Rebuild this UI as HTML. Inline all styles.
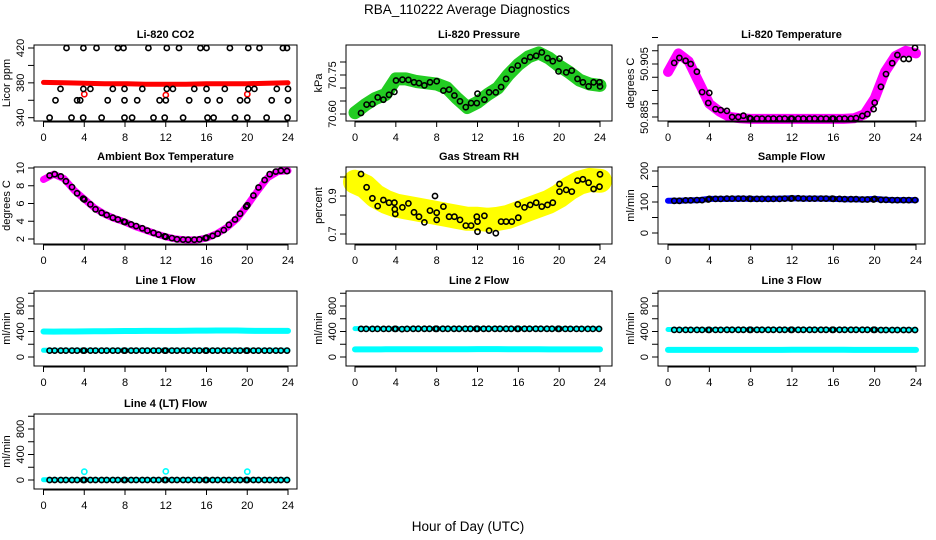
<!DOCTYPE html>
<html><head><meta charset="utf-8"><style>
html,body{margin:0;padding:0;background:#fff;}
svg{display:block;font-family:"Liberation Sans",Arial,sans-serif;}
</style></head><body>
<svg id="chart" width="936" height="540" viewBox="0 0 936 540" xmlns="http://www.w3.org/2000/svg">
<rect x="0" y="0" width="936" height="540" fill="#fff"/>
<text x="467" y="14" font-size="13.5" text-anchor="middle">RBA_110222  Average Diagnostics</text>
<text x="468" y="531" font-size="13.5" text-anchor="middle">Hour of Day (UTC)</text>
</svg>
<script>
// ---------- data ----------
const flowHours = [0.6,1.1,1.7,2.2,2.8,3.3,3.9,4.0,4.6,5.1,5.7,6.2,6.8,7.3,7.9,8.0,8.6,9.1,9.7,10.2,10.8,11.3,11.9,12.0,12.6,13.1,13.7,14.2,14.8,15.3,15.9,16.0,16.6,17.1,17.7,18.2,18.8,19.3,19.9,20.0,20.6,21.1,21.7,22.2,22.8,23.3,23.9];
const bandHours = [0,1,2,3,4,5,6,7,8,9,10,11,12,13,14,15,16,17,18,19,20,21,22,23,24];

// CO2
const co2BandHours = [0,2,4,6,8,10,12,14,16,18,20,22,24];
const co2BandVals = [380.5,380,379.5,379,379,378.5,378.5,378.5,379,379,379,379.5,380];
const co2OutHours = [4,12,20];
const co2OutVals = [367,366,367];
const co2BlackHours = [2.26,3.92,5.2,7.3,7.85,10.3,12.1,13.3,15.4,16.0,18.3,20.1,21.2,23.5,23.9,
 1.67,3.92,4.6,6.8,7.95,9.7,12.1,12.7,14.8,16.0,17.8,20.1,20.7,22.9,24.0,
 1.18,3.3,3.6,6.3,7.95,9.2,11.4,12.0,14.3,16.1,17.3,19.3,20.0,22.4,24.0,
 0.6,2.75,3.9,5.7,7.95,8.7,10.8,11.9,13.7,16.1,16.7,18.8,20.0,21.9,23.95];
const co2BlackVals = [420,420,420,420,420,420,420,420,420,420,420,420,420,420,420,
 373,373,373,373,373,373,373,373,373,373,373,373,373,373,373,
 360,360,360,360,360,360,360,360,360,360,360,360,360,360,360,
 340,340,340,340,340,340,340,340,340,340,340,340,340,340,340];

// Pressure
const presBandVals = [70.605,70.635,70.66,70.675,70.735,70.735,70.725,70.72,70.715,70.70,70.66,70.625,70.645,70.675,70.70,70.75,70.79,70.82,70.835,70.815,70.785,70.76,70.73,70.715,70.71];
const presBlackHours = [0.59,1.14,1.70,2.22,2.78,3.33,3.86,4.02,4.64,5.23,5.78,6.27,6.80,7.35,8.0,8.66,9.22,9.74,10.29,10.85,11.37,11.93,12.0,12.68,13.14,13.79,14.31,14.80,15.36,15.95,16.60,17.16,17.75,18.30,18.86,19.38,20.03,19.93,20.69,21.24,21.80,22.32,22.88,23.37,23.95,24.0];
const presBlackVals = [70.604,70.636,70.638,70.664,70.655,70.674,70.685,70.729,70.732,70.731,70.722,70.719,70.710,70.722,70.726,70.690,70.694,70.671,70.649,70.626,70.642,70.642,70.678,70.655,70.683,70.683,70.704,70.735,70.771,70.786,70.805,70.819,70.824,70.837,70.815,70.803,70.813,70.764,70.760,70.767,70.735,70.722,70.706,70.722,70.722,70.706];

// Li-820 temperature
const ltBandVals = [50.902,50.909,50.906,50.898,50.890,50.887,50.885,50.8845,50.8843,50.8843,50.8843,50.8843,50.8843,50.8843,50.8843,50.8843,50.8843,50.8843,50.8845,50.886,50.892,50.902,50.908,50.910,50.909];
const ltBlackVals = [50.9054,50.9073,50.9062,50.905,50.9021,50.8944,50.8903,50.8941,50.888,50.8876,50.8873,50.885,50.885,50.8855,50.8846,50.8844,50.8844,50.8844,50.8844,50.8844,50.8844,50.8844,50.8844,50.8844,50.8844,50.8844,50.8844,50.8844,50.8844,50.8844,50.8844,50.8844,50.8844,50.8844,50.8844,50.8846,50.8854,50.8861,50.888,50.8904,50.8964,50.9012,50.9053,50.9084,50.9069,50.9069,50.9111];

// Ambient box temperature
const ambBandVals = [8.7,9.3,8.8,7.5,6.5,5.5,4.8,4.3,3.9,3.4,3.0,2.6,2.25,2.0,1.9,1.9,2.1,2.6,3.3,4.3,5.8,7.4,8.9,9.6,9.7];
const ambBlackVals = [9.15,9.3,9.05,8.5,7.85,7.15,6.55,6.45,5.9,5.35,4.95,4.7,4.4,4.2,3.95,3.9,3.65,3.45,3.2,2.95,2.7,2.5,2.3,2.25,2.1,1.97,1.93,1.92,1.92,1.95,2.1,2.15,2.35,2.6,3.0,3.6,4.2,4.85,5.65,5.8,6.9,7.8,8.65,9.3,9.6,9.7,9.65];

// Gas stream RH
const rhBandVals = [0.975,0.95,0.9,0.87,0.85,0.84,0.83,0.82,0.81,0.80,0.79,0.78,0.78,0.775,0.78,0.79,0.81,0.83,0.85,0.87,0.9,0.94,0.97,0.985,0.98];
const rhBlackHours = [0.59,1.14,1.7,2.22,2.78,3.33,3.86,3.9,3.95,4.64,5.23,5.78,6.27,6.8,7.35,7.84,8.0,8.0,8.66,9.22,9.74,10.29,10.85,11.37,11.93,12.0,12.0,12.68,13.14,13.79,14.31,14.8,15.36,15.95,16.0,16.6,17.16,17.75,18.3,18.86,19.38,20.03,20.03,20.69,21.24,21.8,22.32,22.88,23.37,23.95,24.0];
const rhBlackVals = [1.016,0.946,0.888,0.847,0.879,0.865,0.865,0.83,0.805,0.84,0.861,0.814,0.791,0.761,0.823,0.9,0.812,0.774,0.844,0.791,0.791,0.774,0.744,0.744,0.791,0.765,0.712,0.796,0.718,0.704,0.765,0.765,0.765,0.856,0.786,0.84,0.853,0.865,0.844,0.853,0.865,0.963,0.923,0.932,0.923,0.981,0.988,0.97,0.937,0.949,1.014];

// Sample flow
const sfBandVals = [104,104,105,106,110,110,110,111,110,110,110,111,112,111,111,111,110,109,109,108,110,107,106,106,106];
const sfBlackVals = [104,104,105,105,106,106,108,110,110,110,111,111,111,111,111,110,110,110,110,110,110,111,111,112,112,111,111,111,111,111,111,110,110,109,109,109,108,108,108,110,107,107,106,106,106,106,106];

// Line 1 flow
const l1HighVals = [400,398,400,400,402,404,405,406,408,408,409,410,410,410,412,414,414,416,416,416,412,410,410,410,410];
const l1LowVals = [105,105,106,106,106,106,106,106,106,106,106,106,106,106,106,106,106,106,106,106,106,106,106,106,106];
const l1BlackVals = [100,100,100,100,100,100,100,100,100,100,100,100,100,100,100,100,100,100,100,100,100,100,100,100,100,100,100,100,100,100,100,100,100,100,100,100,100,100,100,100,100,100,100,100,100,100,100];

// Line 2 flow
const l2HighVals = [445,445,444,444,444,445,445,446,446,446,446,446,447,447,447,447,447,447,446,446,446,445,445,445,445];
const l2LowVals = [120,120,120,121,122,122,122,122,122,122,122,122,124,124,124,123,122,122,121,120,120,120,120,120,120];
const l2BlackVals = [440,440,440,440,440,440,440,440,437,440,442,442,442,442,442,442,442,442,442,442,442,442,442,442,442,442,442,442,442,442,442,442,442,442,442,442,442,442,442,440,440,440,440,440,440,440,440];

// Line 3 flow
const l3HighVals = [432,430,430,430,430,432,432,432,432,432,432,432,432,432,432,432,432,432,432,432,430,428,428,428,428];
const l3LowVals = [112,112,112,112,112,112,112,112,112,112,112,112,114,113,113,113,113,113,112,112,112,112,112,112,112];
const l3BlackVals = [425,425,425,425,425,425,425,425,425,425,427,427,427,427,427,427,427,427,427,427,427,427,427,427,427,427,427,427,427,427,427,427,427,427,427,427,427,427,427,427,423,423,423,423,423,423,423];

// Line 4 (LT) flow
const l4BandVals = [5,5,5,5,5,5,5,5,5,5,5,5,5,5,5,5,5,5,5,5,5,5,5,5,5];
const l4OutHours = [4,12,20];
const l4OutVals = [130,135,130];
const l4BlackVals = [0,0,0,0,0,0,0,0,0,0,0,0,0,0,0,0,0,0,0,0,0,0,0,0,0,0,0,0,0,0,0,0,0,0,0,0,0,0,0,0,0,0,0,0,0,0,0];

// axis ticks
const xTicks = [0,4,8,12,16,20,24];
const co2Ticks = [340,360,380,400,420]; const co2Labels = ["340","","380","","420"];
const presTicks = [70.60,70.65,70.70,70.75,70.80]; const presLabels = ["70.60","","","70.75",""];
const ltTicks = [50.885,50.89,50.895,50.90,50.905,50.91,50.915]; const ltLabels = ["50.885","","","","50.905","",""];
const ambTicks = [2,4,6,8,10]; const ambLabels = ["2","4","6","8","10"];
const rhTicks = [0.7,0.8,0.9,1.0]; const rhLabels = ["0.7","","0.9",""];
const sfTicks = [0,50,100,150,200]; const sfLabels = ["0","","100","","200"];
const flowTicks = [0,200,400,600,800,1000]; const flowLabels = ["0","","400","","800",""];

// ---------- layout ----------
const COLS = {1:{l:34,r:297,x0:43.5,x24:288},2:{l:346,r:612,x0:355,x24:600},3:{l:658,r:925,x0:668,x24:916}};
const ROWS = {1:{t:45,b:121},2:{t:167,b:244},3:{t:291,b:366},4:{t:414,b:489}};
const NS = "http://www.w3.org/2000/svg";
const svg = document.getElementById('chart');

function mk(tag, attrs, parent){
  const e = document.createElementNS(NS, tag);
  for (const k in attrs) e.setAttribute(k, attrs[k]);
  (parent||svg).appendChild(e);
  return e;
}

const panels = [
 {key:'co2', title:'Li-820 CO2', ylab:'Licor ppm', col:1,row:1, ya:[340,117.7], yb:[420,48], ticks:co2Ticks, labels:co2Labels,
  series:[{t:'band',h:co2BandHours,v:co2BandVals,c:'#ff0000',w:5},{t:'pts',h:co2OutHours,v:co2OutVals,c:'#ff0000'},{t:'pts',h:co2BlackHours,v:co2BlackVals,c:'#000'}]},
 {key:'pressure', title:'Li-820 Pressure', ylab:'kPa', col:2,row:1, ya:[70.60,114], yb:[70.75,75], ticks:presTicks, labels:presLabels,
  series:[{t:'band',h:bandHours,v:presBandVals,c:'#22cc22',w:13},{t:'pts',h:presBlackHours,v:presBlackVals,c:'#000'}]},
 {key:'li820-temp', title:'Li-820 Temperature', ylab:'degrees C', col:3,row:1, ya:[50.885,117], yb:[50.905,64], ticks:ltTicks, labels:ltLabels,
  series:[{t:'band',h:bandHours,v:ltBandVals,c:'#ff00ff',w:10},{t:'pts',h:flowHours,v:ltBlackVals,c:'#000'}]},
 {key:'ambient', title:'Ambient Box Temperature', ylab:'degrees C', col:1,row:2, ya:[2,239], yb:[10,168], ticks:ambTicks, labels:ambLabels,
  series:[{t:'band',h:bandHours,v:ambBandVals,c:'#ff00ff',w:7},{t:'pts',h:flowHours,v:ambBlackVals,c:'#000'}]},
 {key:'rh', title:'Gas Stream RH', ylab:'percent', col:2,row:2, ya:[0.7,234], yb:[0.9,196], ticks:rhTicks, labels:rhLabels,
  series:[{t:'band',h:bandHours,v:rhBandVals,c:'#ffff00',w:24},{t:'pts',h:rhBlackHours,v:rhBlackVals,c:'#000'}]},
 {key:'sample-flow', title:'Sample Flow', ylab:'ml/min', col:3,row:2, ya:[0,233], yb:[200,171], ticks:sfTicks, labels:sfLabels,
  series:[{t:'band',h:bandHours,v:sfBandVals,c:'#0000ff',w:6},{t:'pts',h:flowHours,v:sfBlackVals,c:'#000'}]},
 {key:'line1', title:'Line 1 Flow', ylab:'ml/min', col:1,row:3, ya:[0,357], yb:[800,306], ticks:flowTicks, labels:flowLabels,
  series:[{t:'band',h:bandHours,v:l1HighVals,c:'#00ffff',w:6},{t:'band',h:bandHours,v:l1LowVals,c:'#00ffff',w:5},{t:'pts',h:flowHours,v:l1BlackVals,c:'#000'}]},
 {key:'line2', title:'Line 2 Flow', ylab:'ml/min', col:2,row:3, ya:[0,357], yb:[800,306], ticks:flowTicks, labels:flowLabels,
  series:[{t:'band',h:bandHours,v:l2HighVals,c:'#00ffff',w:5},{t:'band',h:bandHours,v:l2LowVals,c:'#00ffff',w:6},{t:'pts',h:flowHours,v:l2BlackVals,c:'#000'}]},
 {key:'line3', title:'Line 3 Flow', ylab:'ml/min', col:3,row:3, ya:[0,357], yb:[800,306], ticks:flowTicks, labels:flowLabels,
  series:[{t:'band',h:bandHours,v:l3HighVals,c:'#00ffff',w:5},{t:'band',h:bandHours,v:l3LowVals,c:'#00ffff',w:6},{t:'pts',h:flowHours,v:l3BlackVals,c:'#000'}]},
 {key:'line4', title:'Line 4 (LT) Flow', ylab:'ml/min', col:1,row:4, ya:[0,480], yb:[800,429], ticks:flowTicks, labels:flowLabels,
  series:[{t:'band',h:bandHours,v:l4BandVals,c:'#00ffff',w:5},{t:'pts',h:l4OutHours,v:l4OutVals,c:'#00ffff'},{t:'pts',h:flowHours,v:l4BlackVals,c:'#000'}]}
];

panels.forEach(p => {
  const C = COLS[p.col], R = ROWS[p.row];
  const xs = h => C.x0 + (h/24)*(C.x24 - C.x0);
  const ys = v => p.ya[1] + (v - p.ya[0])*(p.yb[1]-p.ya[1])/(p.yb[0]-p.ya[0]);
  const g = mk('g', {});
  
  

  p.series.forEach((s, si) => {
    if (s.t === 'band') {
      let d = '';
      s.h.forEach((h,i) => { d += (i? 'L':'M') + xs(h).toFixed(1) + ' ' + ys(s.v[i]).toFixed(1); });
      const path = mk('path', {d:d, fill:'none', stroke:s.c, 'stroke-width':s.w, 'stroke-linejoin':'round', 'stroke-linecap':'round'}, g);
      
      
    } else {
      s.h.forEach((h,i) => {
        const c = mk('circle', {cx:xs(h).toFixed(1), cy:ys(s.v[i]).toFixed(1), r:2.6, fill:'none', stroke:s.c, 'stroke-width':1.6}, g);
        
        
      });
    }
  });

  const box = mk('rect', {x:C.l, y:R.t, width:C.r-C.l, height:R.b-R.t, fill:'none', stroke:'#000', 'stroke-width':1}, g);
  
  

  const tt = mk('text', {x:(C.l+C.r)/2, y:R.t-7, 'font-size':11, 'font-weight':'bold', 'text-anchor':'middle'}, g);
  tt.textContent = p.title;
  
  

  const xa = mk('g', {}, g);
  
  
  mk('line', {x1:xs(xTicks[0]), x2:xs(xTicks[xTicks.length-1]), y1:R.b+1, y2:R.b+1, stroke:'#000'}, xa);
  xTicks.forEach(t => {
    mk('line', {x1:xs(t), x2:xs(t), y1:R.b, y2:R.b+6, stroke:'#000'}, xa);
    const lb = mk('text', {x:xs(t), y:R.b+20, 'font-size':11, 'text-anchor':'middle'}, xa);
    lb.textContent = String(t);
    
    
  });

  const ya = mk('g', {}, g);
  
  
  p.ticks.forEach((t,i) => {
    const y = ys(t);
    mk('line', {x1:C.l-6, x2:C.l, y1:y, y2:y, stroke:'#000'}, ya);
    if (p.labels[i]) {
      const lb = mk('text', {x:0, y:0, 'font-size':11, 'text-anchor':'middle', 'dominant-baseline':'central', transform:'translate(' + (C.l-13) + ',' + y.toFixed(1) + ') rotate(-90)'}, ya);
      lb.textContent = p.labels[i];
      
      
    }
  });
  const yl = mk('text', {x:0, y:0, 'font-size':11, 'text-anchor':'middle', 'dominant-baseline':'central', transform:'translate(' + (C.l-27) + ',' + ((R.t+R.b)/2) + ') rotate(-90)'}, g);
  yl.textContent = p.ylab;
  
  
});
</script>
</body></html>
